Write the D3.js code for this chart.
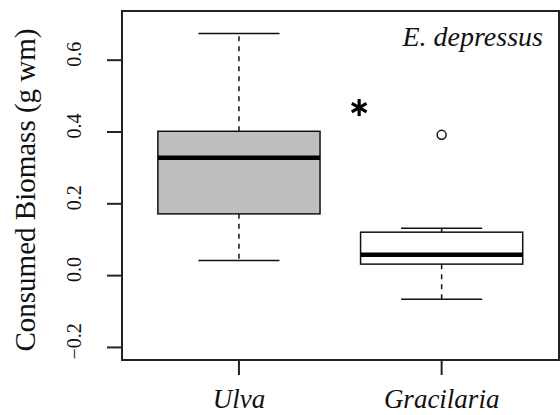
<!DOCTYPE html>
<html>
<head>
<meta charset="utf-8">
<script src="https://cdn.jsdelivr.net/npm/d3@7"></script>
<style>
  body { margin: 0; background: white; }
  svg { display: block; }
  text { font-family: 'Liberation Serif', 'Times New Roman', Times, serif; }
</style>
</head>
<body>
<svg id="chart"></svg>
<script>
  // values
  let groups = ["Ulva", "Gracilaria"]
  let whiskerLow = [0.042, -0.066]
  let lowerQuartile = [0.172, 0.032]
  let medians = [0.328, 0.058]
  let upperQuartile = [0.402, 0.121]
  let whiskerHigh = [0.674, 0.132]
  let outliers = [[], [0.392]]
  let boxFill = ["#bebebe", "#ffffff"]
  let yTicks = [-0.2, 0.0, 0.2, 0.4, 0.6]
  let species = "E. depressus"
  let yTitle = "Consumed Biomass (g wm)"
  // significance star sits between the groups
  let starPos = 1.593
  let starValue = 0.468

  let serif = "'Liberation Serif', 'Times New Roman', serif"
  let width = 560
  let height = 415
  let margin = { top: 11, right: 1, bottom: 55, left: 122 }
  let plotRight = width - margin.right
  let plotBottom = height - margin.bottom

  let svg = d3.select("#chart")
    .attr("width", width)
    .attr("height", height)

  let x = d3.scaleLinear()
    .domain([0.423, 2.579])
    .range([margin.left, plotRight])

  let y = d3.scaleLinear()
    .domain([-0.235, 0.737])
    .range([plotBottom, margin.top])

  let step = x(2) - x(1)
  let boxW = step * 0.8
  let capW = step * 0.4

  let boxes = groups.map((g, i) => ({
    name: g,
    pos: i + 1,
    lo: whiskerLow[i],
    q1: lowerQuartile[i],
    med: medians[i],
    q3: upperQuartile[i],
    hi: whiskerHigh[i],
    out: outliers[i],
    fill: boxFill[i]
  }))

  let body = svg.append("g")

  let box = body.selectAll(".box")
    .data(boxes)
    .enter().append("g")
    .attr("class", "box")

  // dashed whiskers
  box.append("line")
    .attr("x1", d => x(d.pos)).attr("x2", d => x(d.pos))
    .attr("y1", d => y(d.q3)).attr("y2", d => y(d.hi))
    .attr("stroke", "#111").attr("stroke-width", 1.5)
    .attr("stroke-dasharray", "5,5")
  box.append("line")
    .attr("x1", d => x(d.pos)).attr("x2", d => x(d.pos))
    .attr("y1", d => y(d.q1)).attr("y2", d => y(d.lo))
    .attr("stroke", "#111").attr("stroke-width", 1.5)
    .attr("stroke-dasharray", "5,5")

  // whisker caps
  box.selectAll(".cap")
    .data(d => [d.lo, d.hi].map(v => ({ pos: d.pos, v })))
    .enter().append("line")
    .attr("x1", d => x(d.pos) - capW / 2).attr("x2", d => x(d.pos) + capW / 2)
    .attr("y1", d => y(d.v)).attr("y2", d => y(d.v))
    .attr("stroke", "#111").attr("stroke-width", 1.5)

  box.append("rect")
    .attr("x", d => x(d.pos) - boxW / 2)
    .attr("width", boxW)
    .attr("y", d => y(d.q3))
    .attr("height", d => y(d.q1) - y(d.q3))
    .attr("fill", d => d.fill)
    .attr("stroke", "#111").attr("stroke-width", 1.5)

  box.append("line")
    .attr("x1", d => x(d.pos) - boxW / 2).attr("x2", d => x(d.pos) + boxW / 2)
    .attr("y1", d => y(d.med)).attr("y2", d => y(d.med))
    .attr("stroke", "#000").attr("stroke-width", 4.5)

  box.selectAll(".out")
    .data(d => d.out.map(v => ({ pos: d.pos, v })))
    .enter().append("circle")
    .attr("cx", d => x(d.pos)).attr("cy", d => y(d.v))
    .attr("r", 4.5)
    .attr("fill", "white").attr("stroke", "#111").attr("stroke-width", 1.5)

  // asterisk, three strokes through the centre
  let sx = x(starPos), sy = y(starValue), sr = 8.5
  svg.append("g").selectAll("line")
    .data([90, 30, -30])
    .enter().append("line")
    .attr("x1", a => sx - sr * Math.cos(a * Math.PI / 180))
    .attr("y1", a => sy - sr * Math.sin(a * Math.PI / 180))
    .attr("x2", a => sx + sr * Math.cos(a * Math.PI / 180))
    .attr("y2", a => sy + sr * Math.sin(a * Math.PI / 180))
    .attr("stroke", "#000").attr("stroke-width", 3.2)

  // frame
  svg.append("rect")
    .attr("x", margin.left).attr("y", margin.top)
    .attr("width", plotRight - margin.left)
    .attr("height", plotBottom - margin.top)
    .attr("fill", "none").attr("stroke", "#222").attr("stroke-width", 2)

  // y axis
  let axisY = svg.append("g")
  axisY.selectAll("line")
    .data(yTicks)
    .enter().append("line")
    .attr("x1", margin.left - 15).attr("x2", margin.left)
    .attr("y1", d => y(d)).attr("y2", d => y(d))
    .attr("stroke", "#222").attr("stroke-width", 2)
  axisY.selectAll("text")
    .data(yTicks)
    .enter().append("text")
    .attr("transform", d => `translate(81,${y(d) - 6}) rotate(-90)`)
    .attr("text-anchor", "middle")
    .attr("font-family", serif)
    .attr("font-size", 20)
    .attr("fill", "#111")
    .text(d => d3.format(".1f")(d).replace("-", "\u2212"))

  // x axis
  let axisX = svg.append("g")
  axisX.selectAll("line")
    .data(boxes)
    .enter().append("line")
    .attr("x1", d => x(d.pos)).attr("x2", d => x(d.pos))
    .attr("y1", plotBottom).attr("y2", plotBottom + 15)
    .attr("stroke", "#222").attr("stroke-width", 2)
  axisX.selectAll("text")
    .data(boxes)
    .enter().append("text")
    .attr("x", d => x(d.pos))
    .attr("y", 408)
    .attr("text-anchor", "middle")
    .attr("font-family", serif)
    .attr("font-size", 27)
    .attr("font-style", "italic")
    .attr("fill", "#111")
    .text(d => d.name)

  svg.append("text")
    .attr("transform", `translate(35,190) rotate(-90)`)
    .attr("text-anchor", "middle")
    .attr("font-family", serif)
    .attr("font-size", 29)
    .attr("fill", "#111")
    .text(yTitle)

  svg.append("text")
    .attr("x", 543).attr("y", 46)
    .attr("text-anchor", "end")
    .attr("font-family", serif)
    .attr("font-size", 28)
    .attr("font-style", "italic")
    .attr("fill", "#111")
    .text(species)
</script>
</body>
</html>
